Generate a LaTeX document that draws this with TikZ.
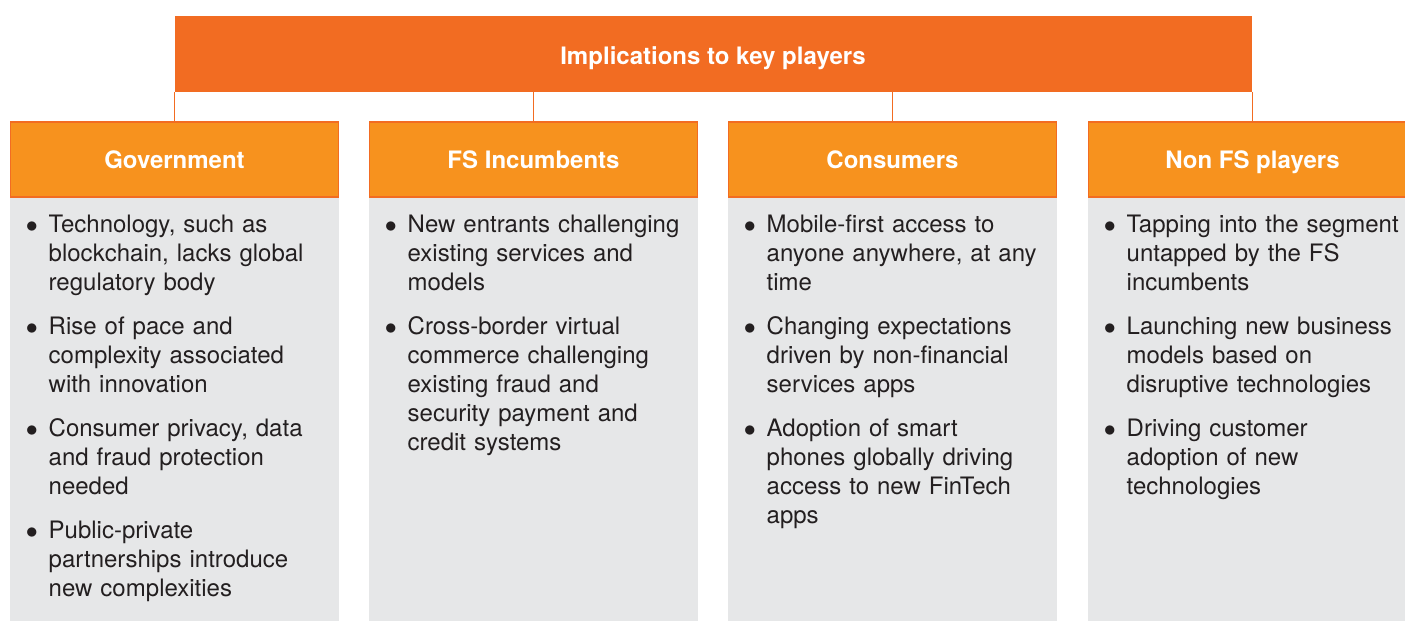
\documentclass[tikz,border=0pt]{standalone}
\usepackage{fontspec}
\setmainfont{TeX Gyre Heros}
\usetikzlibrary{positioning}
\usepackage{xcolor}
\definecolor{topor}{HTML}{F26C22}
\definecolor{heador}{HTML}{F7921E}
\definecolor{bodygr}{HTML}{E6E7E8}
\definecolor{txtgr}{HTML}{231F20}
\newcommand{\bul}[1]{\hangindent=11.4pt\hangafter=1\noindent
  \makebox[11.4pt][l]{$\bullet$}{\let\\\newline#1}\par}

\begin{document}
\begin{tikzpicture}[x=0.5pt,y=-0.5pt,
  topbar/.style={fill=topor,minimum width=538.5pt,minimum height=38pt,inner sep=0,
    text height=10pt,text depth=0pt,text=white,font=\fontsize{12}{14}\selectfont\bfseries},
  head/.style={draw=topor,line width=0.75pt,fill=heador,minimum width=164pt,minimum height=37.5pt,
    inner sep=0,text height=9pt,text depth=0pt,text=white,font=\fontsize{12}{14}\selectfont\bfseries},
  conn/.style={draw=topor,line width=0.75pt},
  items/.style={anchor=north west,text width=175pt,inner sep=0,align=left,text=txtgr,
    font=\fontsize{12}{14.5}\selectfont\setlength{\parskip}{7.5pt}}]
\useasboundingbox (0,0) rectangle (1405,621);
\clip (0,0) rectangle (1405,621);
\node[topbar] (top) at (713,54) {Implications to key players};
\fill[bodygr] (10,197) rectangle (339,621);
\fill[bodygr] (369,197) rectangle (698,621);
\fill[bodygr] (728,197) rectangle (1057,621);
\fill[bodygr] (1088,197) rectangle (1417,621);
\node[head] (gov) at (174.5,159.5) {Government};
\node[head] (fsinc) at (533.5,159.5) {FS Incumbents};
\node[head] (cons) at (892.5,159.5) {Consumers};
\node[head] (nonfs) at (1252.5,159.5) {Non FS players};
\draw[conn] (top.south -| gov.north) -- (gov.north);
\draw[conn] (top.south -| fsinc.north) -- (fsinc.north);
\draw[conn] (top.south -| cons.north) -- (cons.north);
\draw[conn] (top.south -| nonfs.north) -- (nonfs.north);
% bullet lists
\node[items] (govtxt) at (25.5,215) {%
\bul{Technology, such as\\blockchain, lacks global\\regulatory body}
\bul{Rise of pace and\\complexity associated\\with innovation}
\bul{Consumer privacy, data\\and fraud protection\\needed}
\bul{Public-private\\partnerships introduce\\new complexities}};
\node[items] (fsinctxt) at (384.5,215) {%
\bul{New entrants challenging\\existing services and\\models}
\bul{Cross-border virtual\\commerce challenging\\existing fraud and\\security payment and\\credit systems}};
\node[items] (constxt) at (743.5,215) {%
\bul{Mobile-first access to\\anyone anywhere, at any\\time}
\bul{Changing expectations\\driven by non-financial\\services apps}
\bul{Adoption of smart\\phones globally driving\\access to new FinTech\\apps}};
\node[items] (nonfstxt) at (1103.5,215) {%
\bul{Tapping into the segment\\untapped by the FS\\incumbents}
\bul{Launching new business\\models based on\\disruptive technologies}
\bul{Driving customer\\adoption of new\\technologies}};
\end{tikzpicture}
\end{document}
